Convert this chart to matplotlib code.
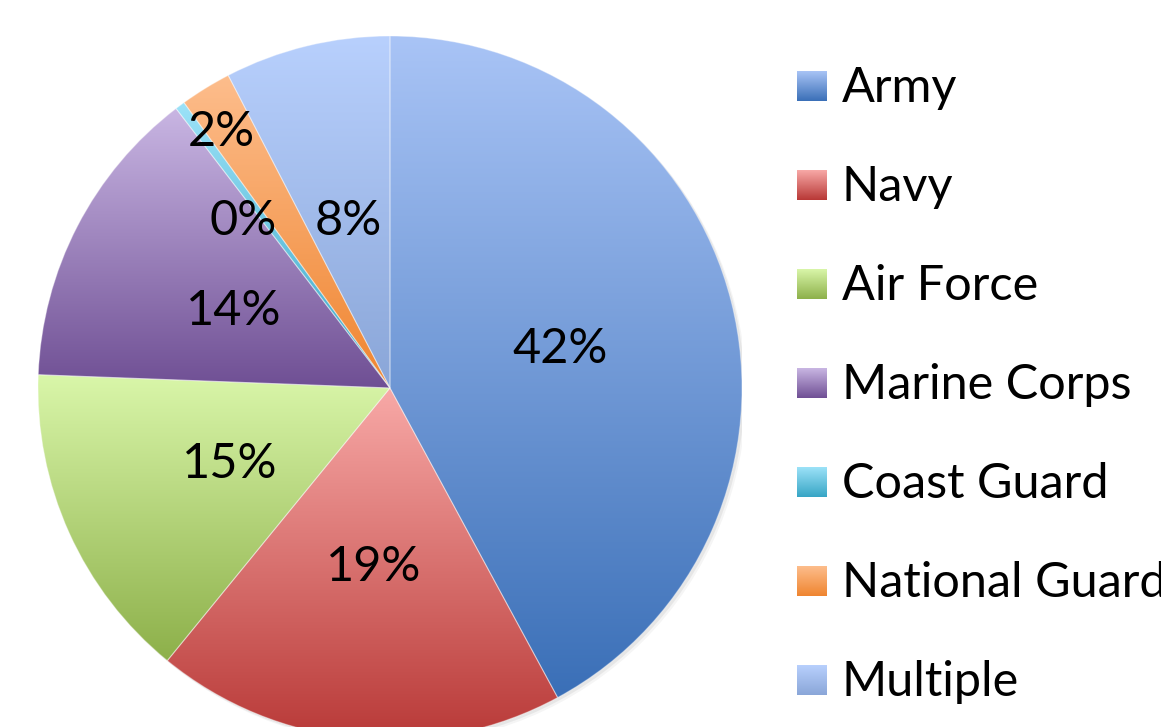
import numpy as np
import matplotlib
matplotlib.use("Agg")
import matplotlib.pyplot as plt
from matplotlib.colors import to_rgb

# data
labels = ["Army", "Navy", "Air Force", "Marine Corps", "Coast Guard",
          "National Guard", "Multiple"]
shares = [42.1, 18.8, 14.7, 14.0, 0.45, 2.35, 7.6]

# gradient colours, top -> bottom
tops = ["#a9c4f6", "#f8a9a7", "#d9f6a9", "#c9b6e3", "#9ce2f8", "#fdbd8c", "#b8d0fd"]
bots = ["#3a6fb7", "#b83836", "#8db04a", "#6f4f94", "#37a5c5", "#ef8530", "#8aa6d8"]
label_r = [0.5, 0.5, 0.5, 0.5, 0.64, 0.88, 0.5]
label_da = [0, 0, 0, 0, 4.0, 1.3, 0]   # small angle nudges (deg)

plt.rcParams['font.family'] = ['Lato', 'DejaVu Sans']
FS = 35

W, H = 1161, 727
fig = plt.figure(figsize=(W / 100, H / 100), dpi=100, facecolor='white')

cx, cy, R = 390, 388, 352
ax = fig.add_axes([(cx - R) / W, (H - cy - R) / H, 2 * R / W, 2 * R / H])


def grad(c1, c2, n=256):
    a, b = np.array(to_rgb(c1)), np.array(to_rgb(c2))
    t = np.linspace(0, 1, n)[:, None]
    return (a * (1 - t) + b * t)[:, None, :]


# soft shadow
for k, al in [(0.012, 0.08), (0.007, 0.12)]:
    ax.add_patch(plt.Circle((k, -k), 1.0, color='gray', alpha=al, lw=0, zorder=0))

wedges, texts, autotexts = ax.pie(
    shares, startangle=90, counterclock=False, radius=1.0,
    autopct='%1.0f%%', pctdistance=0.5,
    wedgeprops=dict(edgecolor=(1, 1, 1, 0.35), linewidth=0.8),
    textprops=dict(fontsize=FS, color='black'))

for w, c1, c2 in zip(wedges, tops, bots):
    v = w.get_path().vertices
    x0, x1 = v[:, 0].min(), v[:, 0].max()
    y0, y1 = v[:, 1].min(), v[:, 1].max()
    im = ax.imshow(grad(c1, c2), extent=[x0, x1, y0, y1], origin='upper',
                   aspect='auto', zorder=1, interpolation='bilinear')
    im.set_clip_path(w)
    w.set_facecolor('none')
    w.set_zorder(2)

for w, t, r, da in zip(wedges, autotexts, label_r, label_da):
    ang = np.deg2rad((w.theta1 + w.theta2) / 2 + da)
    t.set_position((r * np.cos(ang), r * np.sin(ang)))
    t.set_va('center_baseline')
    t.set_zorder(3)

ax.set_xlim(-1, 1)
ax.set_ylim(-1, 1)
ax.set_aspect('equal')
ax.axis('off')

# legend drawn in pixel space
lg = fig.add_axes([0, 0, 1, 1], facecolor='none')
lg.axis('off')
for i, (lab, c1, c2) in enumerate(zip(labels, tops, bots)):
    yc = 86 + 99 * i
    lg.imshow(grad(c1, c2), extent=[797, 827, yc + 15, yc - 15],
              aspect='auto', interpolation='bilinear')
    lg.text(842, yc + 16, lab, fontsize=FS, va='baseline', ha='left')
lg.set_xlim(0, W)
lg.set_ylim(H, 0)

fig.savefig("out.png", dpi=100, facecolor='white')
